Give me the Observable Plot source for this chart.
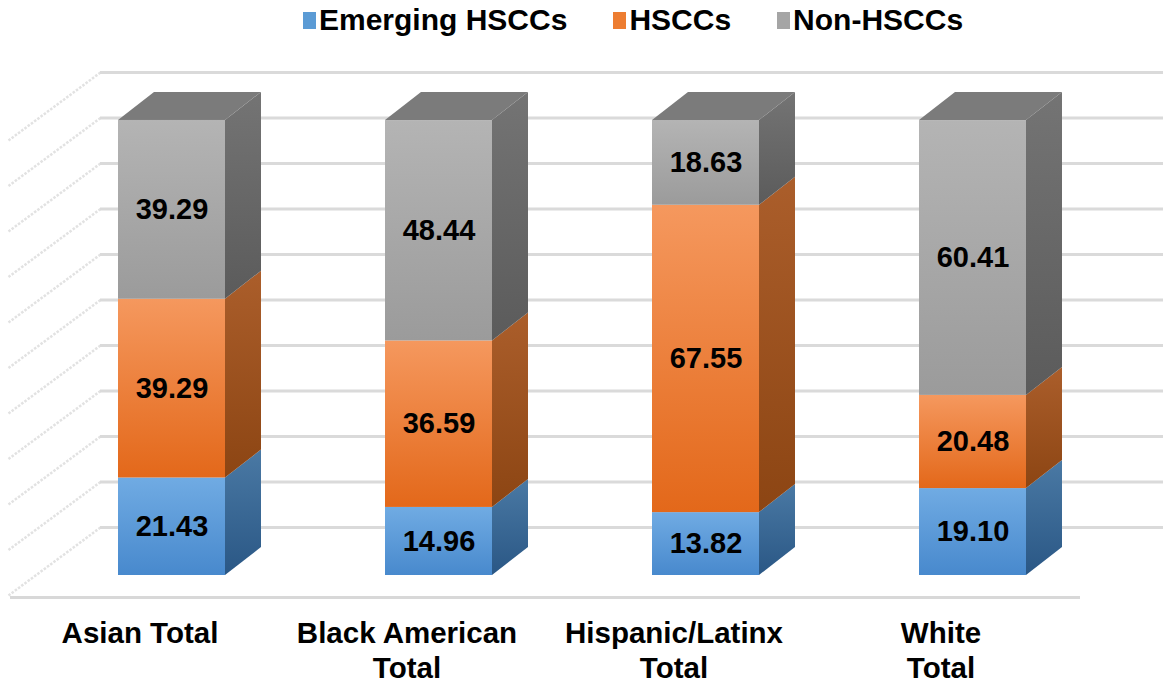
<!DOCTYPE html>
<html><head><meta charset="utf-8">
<script src="https://cdn.jsdelivr.net/npm/d3@7"></script>
<script src="https://cdn.jsdelivr.net/npm/@observablehq/plot@0.6"></script>
<style>
body{margin:0;background:#fff;font-family:"Liberation Sans",Arial,sans-serif;}
#legend{height:45px;display:flex;align-items:center;padding-left:303px;font-weight:bold;font-size:30px;color:#000;box-sizing:border-box;line-height:40px;padding-bottom:5px;}
.item{display:flex;align-items:center;margin-right:46px;}
.sw{width:13px;height:17px;margin-right:3px;}
#chart svg{display:block;overflow:visible;}
</style></head><body>
<div id="legend"></div>
<div id="chart"></div>
<script>
// ---- data ----
const categories = ["Asian Total", "Black American\nTotal", "Hispanic/Latinx\nTotal", "White\nTotal"];
const seriesNames = ["Emerging HSCCs", "HSCCs", "Non-HSCCs"];
const emerging = [21.43, 14.96, 13.82, 19.10];
const hsccs = [39.29, 36.59, 67.55, 20.48];
const nonHsccs = [39.29, 48.44, 18.63, 60.41];
const gridTicks = [0, 10, 20, 30, 40, 50, 60, 70, 80, 90, 100];

// ---- styles ----
const legendColors = ["#5b9bd5", "#ed7d31", "#a5a5a5"];
const frontGrad = [["#70abe3", "#4889cd"], ["#f5985e", "#e3681a"], ["#b4b4b4", "#9b9b9b"]];
const sideGrad = [["#4a79a4", "#2a5785"], ["#ab5e2b", "#8c4513"], ["#747474", "#5b5b5b"]];
const topFill = "#7b7b7b";

// ---- layout (pixels converted to scale units) ----
const W = 1163, H = 638;
const mL = 38, mR = 57, mT = 75, mB = 108;
const pxPerX = (W - mL - mR) / 4;          // one category = 267px
const pxPerY = (H - mT - mB) / 100;        // 4.55 px per percent
const HW = 53.5 / pxPerX;                  // half bar width
const DX = 36 / pxPerX, DY = 28 / pxPerY;  // bar depth
const wallDy = -48;                        // back-wall shift (px)
const c0 = mL + 133.5;
const gridX1 = (100 - c0) / pxPerX, gridX2 = (W - c0) / pxPerX;
const diagX2 = (8 - c0) / pxPerX, diagDrop = 68 / pxPerY;
const floorY = -22 / pxPerY, floorX1 = (10 - c0) / pxPerX, floorX2 = (1080 - c0) / pxPerX;

// legend
const lg = document.getElementById("legend");
seriesNames.forEach((n, k) => {
  const it = document.createElement("div"); it.className = "item";
  it.innerHTML = `<span class="sw" style="background:${legendColors[k]}"></span><span>${n}</span>`;
  lg.appendChild(it);
});

// segments
const seriesValues = [emerging, hsccs, nonHsccs];
const segs = [];
categories.forEach((c, i) => {
  let lo = 0;
  seriesValues.forEach((vals, s) => {
    const v = vals[i];
    segs.push({i, s, lo, hi: lo + v, v, id: `${i}-${s}`});
    lo += v;
  });
});
const sidePts = segs.flatMap(d => [
  {id: d.id, x: d.i + HW, y1: d.lo, y2: d.hi, fill: `url(#side${d.s})`},
  {id: d.id, x: d.i + HW + DX, y1: d.lo + DY, y2: d.hi + DY, fill: `url(#side${d.s})`}
]);
const totals = categories.map((c, i) => ({i, t: emerging[i] + hsccs[i] + nonHsccs[i]}));
const topPts = totals.flatMap(d => [
  {id: d.i, x: d.i - HW, y1: d.t, y2: d.t},
  {id: d.i, x: d.i - HW + DX, y1: d.t, y2: d.t + DY},
  {id: d.i, x: d.i + HW, y1: d.t, y2: d.t + DY},
  {id: d.i, x: d.i + HW + DX, y1: d.t + DY, y2: d.t + DY}
]);

const svg = Plot.plot({
  width: W, height: H,
  marginLeft: mL, marginRight: mR, marginTop: mT, marginBottom: mB,
  x: {domain: [-0.5, 3.5], axis: null},
  y: {domain: [0, 100], axis: null},
  color: {type: "identity"},
  style: {fontFamily: "'Liberation Sans', Arial, sans-serif", background: "#fff", overflow: "visible"},
  marks: [
    Plot.link(gridTicks, {x1: gridX1, y1: d => d, x2: diagX2, y2: d => d - diagDrop, dy: wallDy,
      stroke: "#e2e2e2", strokeWidth: 2.5, strokeDasharray: "2.5 1.5"}),
    Plot.ruleY(gridTicks, {y: d => d, x1: gridX1, x2: gridX2, dy: wallDy, stroke: "#dadada", strokeWidth: 3}),
    Plot.ruleY([floorY], {x1: floorX1, x2: floorX2, stroke: "#d8d8d8", strokeWidth: 3}),
    Plot.area(sidePts, {x1: "x", y1: "y1", y2: "y2", z: "id", fill: "fill"}),
    Plot.area(topPts, {x1: "x", y1: "y1", y2: "y2", z: "id", fill: topFill}),
    Plot.rect(segs, {x1: d => d.i - HW, x2: d => d.i + HW, y1: "lo", y2: "hi", fill: d => `url(#front${d.s})`}),
    Plot.text(segs, {x: "i", y: d => (d.lo + d.hi) / 2, text: d => d.v.toFixed(2),
      fontSize: 29, fontWeight: "bold", fill: "#000"}),
    Plot.text(categories, {x: (d, i) => i, frameAnchor: "bottom", lineAnchor: "top", dy: 43, dx: -32,
      lineHeight: 1.17, text: d => d, fontSize: 29.5, fontWeight: "bold", fill: "#000"})
  ]
});

const defs = d3.select(svg).insert("defs", ":first-child");
function grad(id, c1, c2) {
  const g = defs.append("linearGradient").attr("id", id).attr("x1", 0).attr("y1", 0).attr("x2", 0).attr("y2", 1);
  g.append("stop").attr("offset", "0%").attr("stop-color", c1);
  g.append("stop").attr("offset", "100%").attr("stop-color", c2);
}
frontGrad.forEach((c, s) => grad(`front${s}`, c[0], c[1]));
sideGrad.forEach((c, s) => grad(`side${s}`, c[0], c[1]));

document.getElementById("chart").appendChild(svg);
</script>
</body></html>
